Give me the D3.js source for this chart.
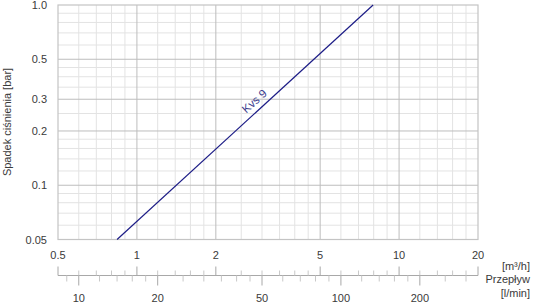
<!DOCTYPE html>
<html><head><meta charset="utf-8">
<script src="https://cdn.jsdelivr.net/npm/d3@7"></script>
<style>html,body{margin:0;padding:0;background:#fff;}svg{display:block;font-family:"Liberation Sans",Arial,sans-serif;}</style>
</head><body>
<svg id="c" width="540" height="303"></svg>
<script>
// Data
const flowM3h = [0.84, 7.96];
const dropBar = [0.05, 1.0];
const seriesLabel = "Kvs 9";
const xTickLabels = [0.5, 1, 2, 5, 10, 20];
const xMinor = [0.6,0.7,0.8,0.9,1.2,1.4,1.6,1.8,2.5,3,3.5,4,4.5,6,7,8,9,12,14,16,18];
const yTickLabels = [1.0, 0.5, 0.3, 0.2, 0.1, 0.05];
const yMinor = [0.06,0.07,0.08,0.09,0.12,0.14,0.16,0.18,0.25,0.35,0.4,0.45,0.6,0.7,0.8,0.9];
const lminLabels = [10, 20, 50, 100, 200];
const lminMinor = [9,12,14,16,18,25,30,35,40,45,60,70,80,90,120,140,160,180,250,300];

const svg = d3.select("#c");
const L = 58, R = 478, T = 5, B = 239.5;
const x = d3.scaleLog().domain([0.5, 20]).range([L, R]);
const y = d3.scaleLog().domain([0.05, 1.0]).range([B, T]);
const textCol = "#3a3a3a";

// minor grid
const g = svg.append("g");
g.selectAll(".vm").data(xMinor).join("line")
  .attr("x1", d => x(d)).attr("x2", d => x(d)).attr("y1", T).attr("y2", B)
  .attr("stroke", "#e3e3e3").attr("stroke-width", 1);
g.selectAll(".hm").data(yMinor).join("line")
  .attr("y1", d => y(d)).attr("y2", d => y(d)).attr("x1", L).attr("x2", R)
  .attr("stroke", "#e3e3e3").attr("stroke-width", 1);
// major grid
g.selectAll(".vM").data(xTickLabels.slice(1, -1)).join("line")
  .attr("x1", d => x(d)).attr("x2", d => x(d)).attr("y1", T).attr("y2", B)
  .attr("stroke", "#bdbdbd").attr("stroke-width", 1);
g.selectAll(".hM").data(yTickLabels.slice(1, -1)).join("line")
  .attr("y1", d => y(d)).attr("y2", d => y(d)).attr("x1", L).attr("x2", R)
  .attr("stroke", "#bdbdbd").attr("stroke-width", 1);
// border
g.append("rect").attr("x", L).attr("y", T).attr("width", R - L).attr("height", B - T)
  .attr("fill", "none").attr("stroke", "#c4c4c4").attr("stroke-width", 1.2);

// series line
const pts = flowM3h.map((q, i) => [q, dropBar[i]]);
svg.append("path").datum(pts)
  .attr("d", d3.line().x(d => x(d[0])).y(d => y(d[1])))
  .attr("fill", "none").attr("stroke", "#1c1c86").attr("stroke-width", 1.2);
// label along line
const lq = 2.87, lp = 0.282;
svg.append("text").attr("transform", `translate(${x(lq)},${y(lp)}) rotate(-42)`)
  .attr("text-anchor", "middle").attr("font-size", 11.5).attr("fill", "#3b3b8e")
  .text(seriesLabel);

// y axis labels
svg.append("g").selectAll("text").data(yTickLabels).join("text")
  .attr("x", 47).attr("y", d => y(d) + 4).attr("text-anchor", "end")
  .attr("font-size", 11).attr("fill", textCol)
  .text(d => d === 1 ? "1.0" : String(d));
svg.append("text").attr("transform", "translate(11,122) rotate(-90)")
  .attr("text-anchor", "middle").attr("font-size", 11).attr("fill", textCol)
  .text("Spadek ciśnienia [bar]");

// bottom: m³/h labels
svg.append("g").selectAll("text").data(xTickLabels).join("text")
  .attr("x", d => x(d)).attr("y", 259).attr("text-anchor", "middle")
  .attr("font-size", 11).attr("fill", textCol).text(d => String(d));

// dual axis
const AY = 275.5;
const tickCol = "#a8a8a8";
svg.append("line").attr("x1", L).attr("x2", R).attr("y1", AY).attr("y2", AY)
  .attr("stroke", tickCol).attr("stroke-width", 1);
svg.append("g").selectAll("line").data(xTickLabels).join("line")
  .attr("x1", d => x(d)).attr("x2", d => x(d)).attr("y1", AY - 9).attr("y2", AY)
  .attr("stroke", tickCol);
svg.append("g").selectAll("line").data(xMinor).join("line")
  .attr("x1", d => x(d)).attr("x2", d => x(d)).attr("y1", AY - 5).attr("y2", AY)
  .attr("stroke", "#c8c8c8");
const toM3h = v => v * 60 / 1000;
svg.append("g").selectAll("line").data(lminLabels).join("line")
  .attr("x1", d => x(toM3h(d))).attr("x2", d => x(toM3h(d))).attr("y1", AY).attr("y2", AY + 10)
  .attr("stroke", tickCol);
svg.append("g").selectAll("line").data(lminMinor.filter(v => toM3h(v) >= 0.5 && toM3h(v) <= 20)).join("line")
  .attr("x1", d => x(toM3h(d))).attr("x2", d => x(toM3h(d))).attr("y1", AY).attr("y2", AY + 6)
  .attr("stroke", "#c8c8c8");
svg.append("g").selectAll("text").data(lminLabels).join("text")
  .attr("x", d => x(toM3h(d))).attr("y", 301.5).attr("text-anchor", "middle")
  .attr("font-size", 11).attr("fill", textCol).text(d => String(d));

// unit labels
const units = [["[m³/h]", 269.5], ["Przepływ", 283], ["[l/min]", 296.5]];
svg.append("g").selectAll("text").data(units).join("text")
  .attr("x", 530).attr("y", d => d[1]).attr("text-anchor", "end")
  .attr("font-size", 11).attr("fill", textCol).text(d => d[0]);
</script>
</body></html>
